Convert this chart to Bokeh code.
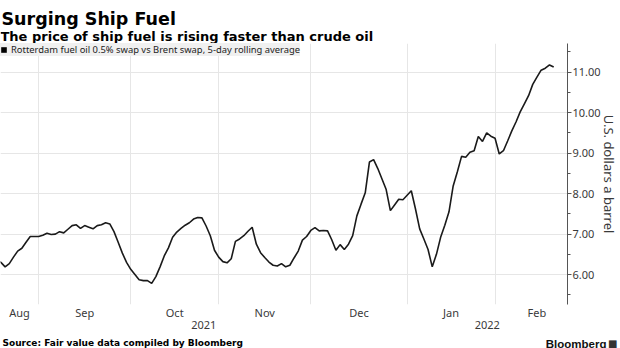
import numpy as np
from bokeh.plotting import figure
from bokeh.layouts import column
from bokeh.models import (Range1d, LinearAxis, FixedTicker, Legend, LegendItem, Label,
                          ColumnDataSource, CustomJSTickFormatter, PrintfTickFormatter)
from bokeh.embed import file_html
from bokeh.resources import INLINE

# ---------------- data ----------------
dates = [
    "2021-08-18", "2021-08-19", "2021-08-20", "2021-08-23", "2021-08-24", "2021-08-25", "2021-08-26",
    "2021-08-27", "2021-08-30", "2021-08-31",
    "2021-09-01", "2021-09-02", "2021-09-03", "2021-09-06", "2021-09-07", "2021-09-08", "2021-09-09",
    "2021-09-10", "2021-09-13", "2021-09-14", "2021-09-15", "2021-09-16", "2021-09-17", "2021-09-20",
    "2021-09-21", "2021-09-22", "2021-09-23", "2021-09-24", "2021-09-27", "2021-09-28", "2021-09-29",
    "2021-09-30",
    "2021-10-01", "2021-10-04", "2021-10-05", "2021-10-06", "2021-10-07", "2021-10-08", "2021-10-11",
    "2021-10-12", "2021-10-13", "2021-10-14", "2021-10-15", "2021-10-18", "2021-10-19", "2021-10-20",
    "2021-10-21", "2021-10-22", "2021-10-25", "2021-10-26", "2021-10-27", "2021-10-28", "2021-10-29",
    "2021-11-01", "2021-11-02", "2021-11-03", "2021-11-04", "2021-11-05", "2021-11-08", "2021-11-09",
    "2021-11-10", "2021-11-11", "2021-11-12", "2021-11-15", "2021-11-16", "2021-11-17", "2021-11-18",
    "2021-11-19", "2021-11-22", "2021-11-23", "2021-11-24", "2021-11-25", "2021-11-26", "2021-11-29",
    "2021-11-30",
    "2021-12-01", "2021-12-02", "2021-12-03", "2021-12-06", "2021-12-07", "2021-12-08", "2021-12-09",
    "2021-12-10", "2021-12-13", "2021-12-14", "2021-12-15", "2021-12-16", "2021-12-17", "2021-12-20",
    "2021-12-21", "2021-12-22", "2021-12-23", "2021-12-24", "2021-12-27", "2021-12-28", "2021-12-29",
    "2021-12-30", "2021-12-31",
    "2022-01-03", "2022-01-04", "2022-01-05", "2022-01-06", "2022-01-07", "2022-01-10", "2022-01-11",
    "2022-01-12", "2022-01-13", "2022-01-14", "2022-01-17", "2022-01-18", "2022-01-19", "2022-01-20",
    "2022-01-21", "2022-01-24", "2022-01-25", "2022-01-26", "2022-01-27", "2022-01-28", "2022-01-31",
    "2022-02-01", "2022-02-02", "2022-02-03", "2022-02-04", "2022-02-07", "2022-02-08", "2022-02-09",
    "2022-02-10", "2022-02-11", "2022-02-14", "2022-02-15", "2022-02-16", "2022-02-17", "2022-02-18",
    "2022-02-21",
]
spread = [
    6.36, 6.30, 6.19, 6.27, 6.43, 6.58, 6.65,
    6.80, 6.94, 6.94,
    6.94, 6.97, 7.02, 6.99, 7.00, 7.06, 7.03,
    7.12, 7.21, 7.23, 7.14, 7.21, 7.17, 7.13,
    7.21, 7.23, 7.28, 7.25, 7.06, 6.80, 6.53,
    6.30,
    6.13, 6.00, 5.87, 5.85, 5.85, 5.78, 5.95,
    6.19, 6.46, 6.66, 6.92, 7.05, 7.14, 7.22,
    7.28, 7.37, 7.41, 7.40, 7.20, 6.96, 6.60,
    6.43, 6.32, 6.29, 6.39, 6.82, 6.88, 6.96,
    7.07, 7.17, 6.75, 6.54, 6.42, 6.31, 6.23,
    6.21, 6.27, 6.19, 6.23, 6.41, 6.58, 6.85,
    6.94,
    7.09, 7.16, 7.08, 7.09, 7.08, 6.86, 6.60,
    6.74, 6.62, 6.75, 6.96, 7.45, 7.74, 8.02,
    8.78, 8.84, 8.62, 8.36, 8.10, 7.58, 7.72,
    7.86, 7.85,
    7.96, 8.07, 7.62, 7.13, 6.88, 6.62, 6.19,
    6.50, 6.92, 7.22, 7.55, 8.19, 8.54, 8.92,
    8.90, 9.02, 9.06, 9.41, 9.29, 9.50, 9.42,
    9.37, 8.98, 9.06, 9.30, 9.55, 9.77, 10.02,
    10.22, 10.42, 10.70, 10.88, 11.05, 11.10, 11.18,
    11.13,
]
month_starts = ["2021-08-02", "2021-09-01", "2021-10-01", "2021-11-01", "2021-12-01",
                "2022-01-03", "2022-02-01", "2022-03-01"]
month_labels = ["Aug", "Sep", "Oct", "Nov", "Dec", "Jan", "Feb"]
year_starts = ["2021-01-04", "2022-01-03", "2023-01-02"]
year_labels = ["2021", "2022"]
y_ticks = [6.0, 7.0, 8.0, 9.0, 10.0, 11.0]
series_label = "Rotterdam fuel oil 0.5% swap vs Brent swap, 5-day rolling average"
title_text = "Surging Ship Fuel"
subtitle_text = "The price of ship fuel is rising faster than crude oil"
source_text = "Source: Fair value data compiled by Bloomberg"
y_label = "U.S. dollars a barrel"

# ---------------- trading-day axis ----------------
ORIGIN = "2021-09-01"
x_idx = np.busday_count(ORIGIN, np.array(dates, dtype="datetime64[D]"))
ms_idx = np.busday_count(ORIGIN, np.array(month_starts, dtype="datetime64[D]")).astype(float)
ys_idx = np.busday_count(ORIGIN, np.array(year_starts, dtype="datetime64[D]")).astype(float)
X0, X1 = -9.1, 126.3
month_pos = [float((max(ms_idx[i], X0) + ms_idx[i + 1]) / 2) for i in range(len(month_labels))]
year_pos = [float((max(ys_idx[i], X0) + min(ys_idx[i + 1], X1)) / 2) for i in range(len(year_labels))]

TXT = "#3a3a3a"
SANS = "Noto Sans"
W = 620


def blank(h):
    f = figure(width=W, height=h, output_backend="svg", toolbar_location=None,
               x_axis_type=None, y_axis_type=None, x_range=Range1d(0, W), y_range=Range1d(0, h),
               min_border=0, frame_align=False)
    f.outline_line_color = None
    f.background_fill_color = "white"
    f.border_fill_color = "white"
    return f


# ---------------- header ----------------
HEAD_H = 43
head = blank(HEAD_H)
head.add_layout(Label(x=1, y=HEAD_H - 18.5, x_units="screen", y_units="screen", text=title_text,
                      text_font="DejaVu Sans", text_font_style="bold", text_font_size="17.5px",
                      text_color="#000000", text_baseline="alphabetic"))
head.add_layout(Label(x=0, y=HEAD_H - 35.5, x_units="screen", y_units="screen", text=subtitle_text,
                      text_font="DejaVu Sans", text_font_style="bold", text_font_size="13px",
                      text_color="#000000", text_baseline="alphabetic"))

# ---------------- main chart ----------------
MAIN_H = 288
src = ColumnDataSource(data=dict(x=x_idx, y=spread))
p = figure(width=W, height=MAIN_H, output_backend="svg", toolbar_location=None,
           x_range=Range1d(X0, X1), y_range=Range1d(5.26, 11.71),
           y_axis_location="right", min_border_left=0, min_border_right=51,
           min_border_top=0, min_border_bottom=25, frame_align=False)
p.outline_line_color = None
p.background_fill_color = "white"

p.xgrid.ticker = FixedTicker(ticks=[float(v) for v in ms_idx[1:-1]])
p.xgrid.grid_line_color = "#e6e6e6"
p.ygrid.grid_line_color = "#e6e6e6"

fmt_js = """
let out = '';
for (let k = 0; k < pos.length; k++) { if (Math.abs(pos[k] - tick) < 1e-6) { out = labs[k]; } }
return out;
"""


def style_x(ax, standoff):
    ax.axis_line_color = None
    ax.major_tick_line_color = None
    ax.minor_tick_line_color = None
    ax.major_tick_out = 0
    ax.major_tick_in = 0
    ax.minor_tick_out = 0
    ax.minor_tick_in = 0
    ax.major_label_standoff = standoff
    ax.major_label_text_font = SANS
    ax.major_label_text_font_size = "11px"
    ax.major_label_text_color = TXT


xa = p.xaxis[0]
xa.ticker = FixedTicker(ticks=month_pos)
xa.formatter = CustomJSTickFormatter(args=dict(pos=month_pos, labs=month_labels), code=fmt_js)
style_x(xa, 0)

xa2 = LinearAxis(ticker=FixedTicker(ticks=year_pos),
                 formatter=CustomJSTickFormatter(args=dict(pos=year_pos, labs=year_labels), code=fmt_js))
style_x(xa2, -2)
p.add_layout(xa2, "below")

ya = p.yaxis[0]
ya.ticker = FixedTicker(ticks=y_ticks, minor_ticks=[v + 0.5 for v in [5.0] + y_ticks])
ya.formatter = PrintfTickFormatter(format="%.2f")
ya.axis_line_color = "#555555"
ya.major_tick_line_color = "#555555"
ya.minor_tick_line_color = "#555555"
ya.major_tick_in = 0
ya.major_tick_out = 4
ya.minor_tick_in = 0
ya.minor_tick_out = 3
ya.major_label_standoff = 1
ya.major_label_text_font = SANS
ya.major_label_text_font_size = "11px"
ya.major_label_text_color = TXT
ya.axis_label = y_label
ya.axis_label_standoff = -4
ya.axis_label_text_font = SANS
ya.axis_label_text_font_size = "13px"
ya.axis_label_text_font_style = "normal"
ya.axis_label_text_color = TXT

p.line("x", "y", source=src, line_color="#1a1a1a", line_width=1.6)

nan_src = ColumnDataSource(data=dict(l=[np.nan], r=[np.nan], b=[np.nan], t=[np.nan]))
sw = p.quad(left="l", right="r", bottom="b", top="t", source=nan_src,
            fill_color="black", line_color=None)
legend = Legend(items=[LegendItem(label=series_label, renderers=[sw])], location="top_left",
                margin=0, padding=4, spacing=0, glyph_width=7, glyph_height=7,
                label_standoff=4, label_height=11, label_text_font=SANS,
                label_text_font_size="9.4px", label_text_color="#222222",
                background_fill_color="#f0f0f0", background_fill_alpha=1.0,
                border_line_color=None)
p.add_layout(legend)

# ---------------- footer ----------------
FOOT_TOP = HEAD_H + MAIN_H
FOOT_H = 348 - FOOT_TOP
foot = blank(FOOT_H)
foot.add_layout(Label(x=2, y=FOOT_H - (342 - FOOT_TOP), x_units="screen", y_units="screen",
                      text=source_text, text_font="DejaVu Sans", text_font_style="bold",
                      text_font_size="9px", text_color="#000000", text_baseline="alphabetic"))
foot.add_layout(Label(x=606, y=FOOT_H - (343 - FOOT_TOP), x_units="screen", y_units="screen",
                      text="Bloomberg", text_font="Liberation Sans", text_font_style="bold",
                      text_align="right",
                      text_font_size="11.5px", text_color="#111111", text_baseline="alphabetic"))
foot.add_layout(Label(x=617, y=FOOT_H - (343 - FOOT_TOP), x_units="screen", y_units="screen",
                      text="\u25a0", text_font="DejaVu Sans", text_font_size="10px",
                      text_align="right",
                      text_color="#333333", text_baseline="alphabetic"))

layout = column(head, p, foot, spacing=0)
open("out.html", "w").write(file_html(layout, INLINE))
